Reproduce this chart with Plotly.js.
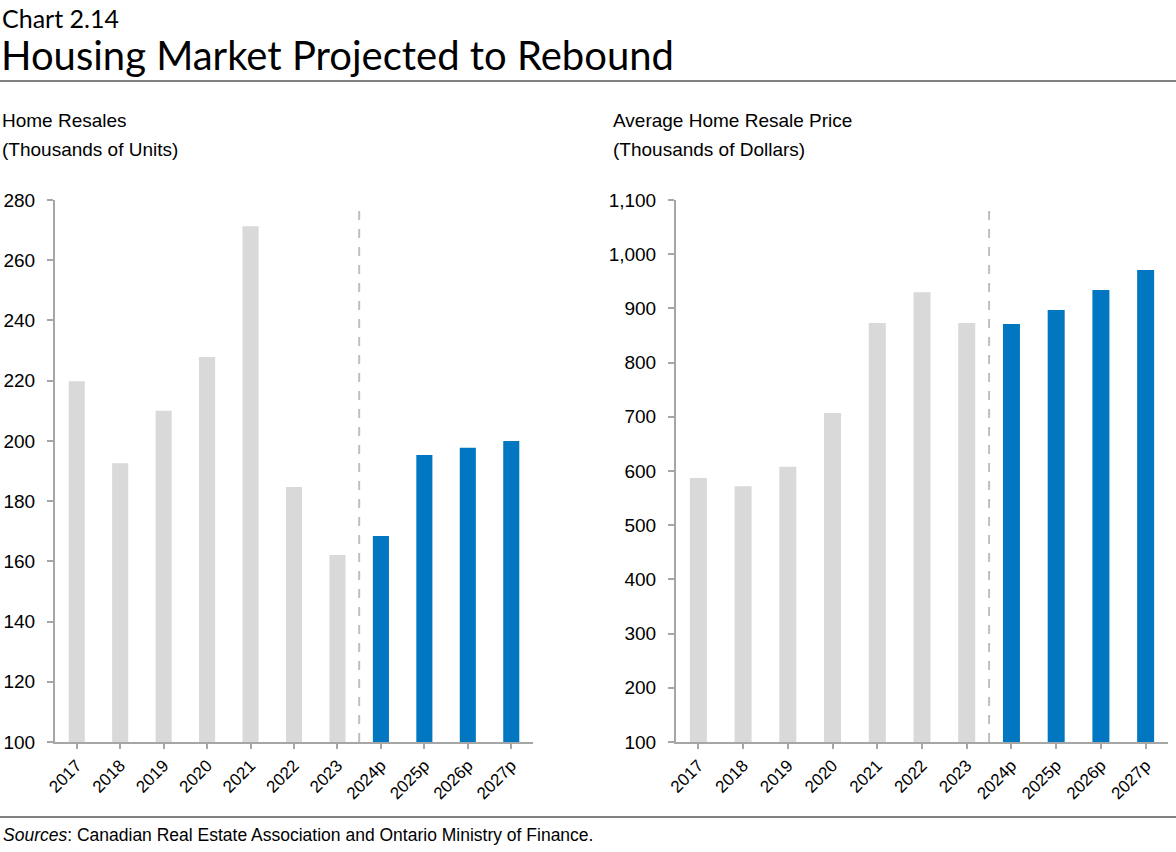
<!DOCTYPE html>
<html><head><meta charset="utf-8">
<script src="https://cdn.plot.ly/plotly-3.0.1.min.js"></script>
<style>html,body{margin:0;padding:0;background:#fff}#chart{width:1176px;height:852px}</style>
</head><body><div id="chart"></div>
<script>
const years = ["2017","2018","2019","2020","2021","2022","2023","2024p","2025p","2026p","2027p"];
const resales = [219.8, 192.6, 210.0, 227.9, 271.3, 184.7, 162.1, 168.4, 195.3, 197.7, 200.0];
const prices = [587, 572, 608, 707, 873, 930, 873, 871, 897, 934, 971];
const leftTicks = [100,120,140,160,180,200,220,240,260,280];
const rightTicks = [100,200,300,400,500,600,700,800,900,1000,1100];

const GREY = "#d9d9d9", BLUE = "#0077c0", AXIS = "#a6a6a6";
const colors = years.map(y => y.endsWith("p") ? BLUE : GREY);
const lastActual = years.findIndex(y => y.endsWith("p")) - 0.5;

const W = 1176, H = 852;
const SANS = "Liberation Sans, Arial, sans-serif";
const tickFont = {family: SANS, size: 19, color: "#000"};

const traces = [
  {type:"bar", x: years, y: resales, xaxis:"x", yaxis:"y", width:0.37,
   marker:{color: colors}, hoverinfo:"x+y", showlegend:false},
  {type:"bar", x: years, y: prices, xaxis:"x2", yaxis:"y2", width:0.38,
   marker:{color: colors}, hoverinfo:"x+y", showlegend:false}
];

const xCommon = {type:"category", range:[-0.5, 10.5], showline:true, linecolor:AXIS, linewidth:2,
  ticks:"outside", ticklen:5, tickcolor:AXIS, tickwidth:2, tickangle:-45, showgrid:false,
  zeroline:false, tickfont:{family:SANS, size:17, color:"#000"}, fixedrange:true};
const yCommon = {showline:true, linecolor:AXIS, linewidth:2, ticks:"outside", ticklen:6,
  tickcolor:AXIS, tickwidth:2, showgrid:false, zeroline:false, tickfont:tickFont, fixedrange:true,
  tickmode:"array", ticklabelstandoff:8};

const yDom = [1 - 742/H, 1 - 200/H];
const layout = {
  width: W, height: H, margin:{l:0, r:0, t:0, b:0}, paper_bgcolor:"#fff", plot_bgcolor:"#fff",
  xaxis: Object.assign({}, xCommon, {domain:[55/W, 533/W], anchor:"y"}),
  yaxis: Object.assign({}, yCommon, {domain:yDom, range:[100,280], tickvals:leftTicks,
     ticktext:leftTicks.map(String), anchor:"x"}),
  xaxis2: Object.assign({}, xCommon, {domain:[676/W, 1168/W], anchor:"y2"}),
  yaxis2: Object.assign({}, yCommon, {domain:yDom, range:[100,1100], tickvals:rightTicks,
     ticktext:rightTicks.map(v => v.toLocaleString("en-US")), anchor:"x2"}),
  shapes: [
    {type:"line", xref:"x", yref:"y", x0:lastActual, x1:lastActual, y0:100, y1:278.5,
     line:{color:"#bfbfbf", width:2, dash:"dash"}},
    {type:"line", xref:"x2", yref:"y2", x0:lastActual, x1:lastActual, y0:100, y1:1095,
     line:{color:"#bfbfbf", width:2, dash:"dash"}},
    {type:"line", xref:"paper", yref:"paper", x0:0, x1:1, y0:1-81/H, y1:1-81/H, line:{color:"#000", width:1}},
    {type:"line", xref:"paper", yref:"paper", x0:0, x1:1, y0:1-817/H, y1:1-817/H, line:{color:"#000", width:1}}
  ],
  annotations: [
    {text:"Chart 2.14", xref:"paper", yref:"paper", x:1/W, y:1-2/H, xanchor:"left", yanchor:"top",
     borderpad:0, showarrow:false, font:{family:"Lato, sans-serif", size:25, color:"#000"}},
    {text:"Housing Market Projected to Rebound", xref:"paper", yref:"paper", x:0/W, y:1-30/H,
     borderpad:0, xanchor:"left", yanchor:"top", showarrow:false, font:{family:"Lato, sans-serif", size:40, color:"#000"}},
    {text:"Home Resales", xref:"paper", yref:"paper", x:0/W, y:1-108/H,
     xanchor:"left", yanchor:"top", align:"left", showarrow:false,
     font:{family:SANS, size:19, color:"#000"}},
    {text:"(Thousands of Units)", xref:"paper", yref:"paper", x:0/W, y:1-137/H,
     xanchor:"left", yanchor:"top", align:"left", showarrow:false,
     font:{family:SANS, size:19, color:"#000"}},
    {text:"Average Home Resale Price", xref:"paper", yref:"paper", x:611/W, y:1-108/H,
     xanchor:"left", yanchor:"top", align:"left", showarrow:false,
     font:{family:SANS, size:19, color:"#000"}},
    {text:"(Thousands of Dollars)", xref:"paper", yref:"paper", x:611/W, y:1-137/H,
     xanchor:"left", yanchor:"top", align:"left", showarrow:false,
     font:{family:SANS, size:19, color:"#000"}},
    {text:"<i>Sources</i>: Canadian Real Estate Association and Ontario Ministry of Finance.", xref:"paper", yref:"paper",
     x:1/W, y:1-823/H, xanchor:"left", yanchor:"top", showarrow:false,
     font:{family:SANS, size:17.5, color:"#000"}}
  ]
};
Plotly.newPlot("chart", traces, layout, {displayModeBar:false, staticPlot:true});
</script></body></html>
